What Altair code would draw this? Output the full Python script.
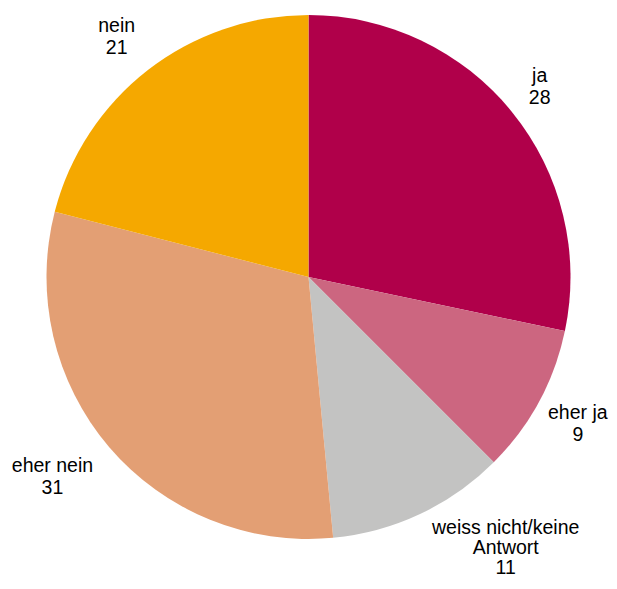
import altair as alt
import pandas as pd

categories = ["ja", "eher ja", "weiss nicht/keine Antwort", "eher nein", "nein"]
label_lines = ["ja", "eher ja", "weiss nicht/keine\nAntwort", "eher nein", "nein"]
# slice shares as drawn (read from the slice boundaries)
shares = [28.3, 9.2, 11.0, 30.5, 21.0]
# values printed in the labels
values = [28, 9, 11, 31, 21]
colors = ["#B0004A", "#CC6680", "#C3C3C2", "#E39F74", "#F5A800"]

df = pd.DataFrame({
    "cat": categories,
    "lab": label_lines,
    "share": shares,
    "value": values,
    "order": list(range(len(categories))),
})
df["text"] = df["lab"] + "\n" + df["value"].astype(str)
total = sum(values)

color_scale = alt.Scale(domain=categories, range=colors)

base = alt.Chart(df)

pie = base.mark_arc(radius=262).encode(
    theta=alt.Theta("share:Q", stack=True),
    color=alt.Color("cat:N", scale=color_scale, legend=None),
    order=alt.Order("order:Q"),
)

# per-label nudges (dx, dy, lineHeight) relative to mid-angle position at radius 300
nudges = {
    "ja": (0, -10, 22),
    "eher ja": (2, 0, 22),
    "weiss nicht/keine Antwort": (61, -16, 20),
    "eher nein": (-31, -9, 22),
    "nein": (-8, -14, 22),
}

label_base = base.transform_window(
    cum="sum(value)", sort=[alt.SortField("order")], frame=[None, 0]
).transform_calculate(mid="datum.cum - datum.value / 2")

layers = [pie]
for cat in categories:
    dx, dy, lh = nudges[cat]
    layers.append(
        label_base.transform_filter(alt.datum.cat == cat)
        .mark_text(
            radius=300, dx=dx, dy=dy, lineBreak="\n", lineHeight=lh,
            font="Liberation Sans", fontSize=19.5, color="#000000",
            align="center", baseline="middle",
        )
        .encode(
            theta=alt.Theta("mid:Q", stack=None, scale=alt.Scale(domain=[0, total])),
            text="text:N",
        )
    )

chart = alt.layer(*layers).resolve_scale(theta="independent").properties(
    width=601, height=538, autosize="none",
    padding={"left": 0, "top": 0, "right": 0, "bottom": 35},
).configure_view(stroke=None)

chart.save("out.html", embed_options={"renderer": "svg", "actions": False})
